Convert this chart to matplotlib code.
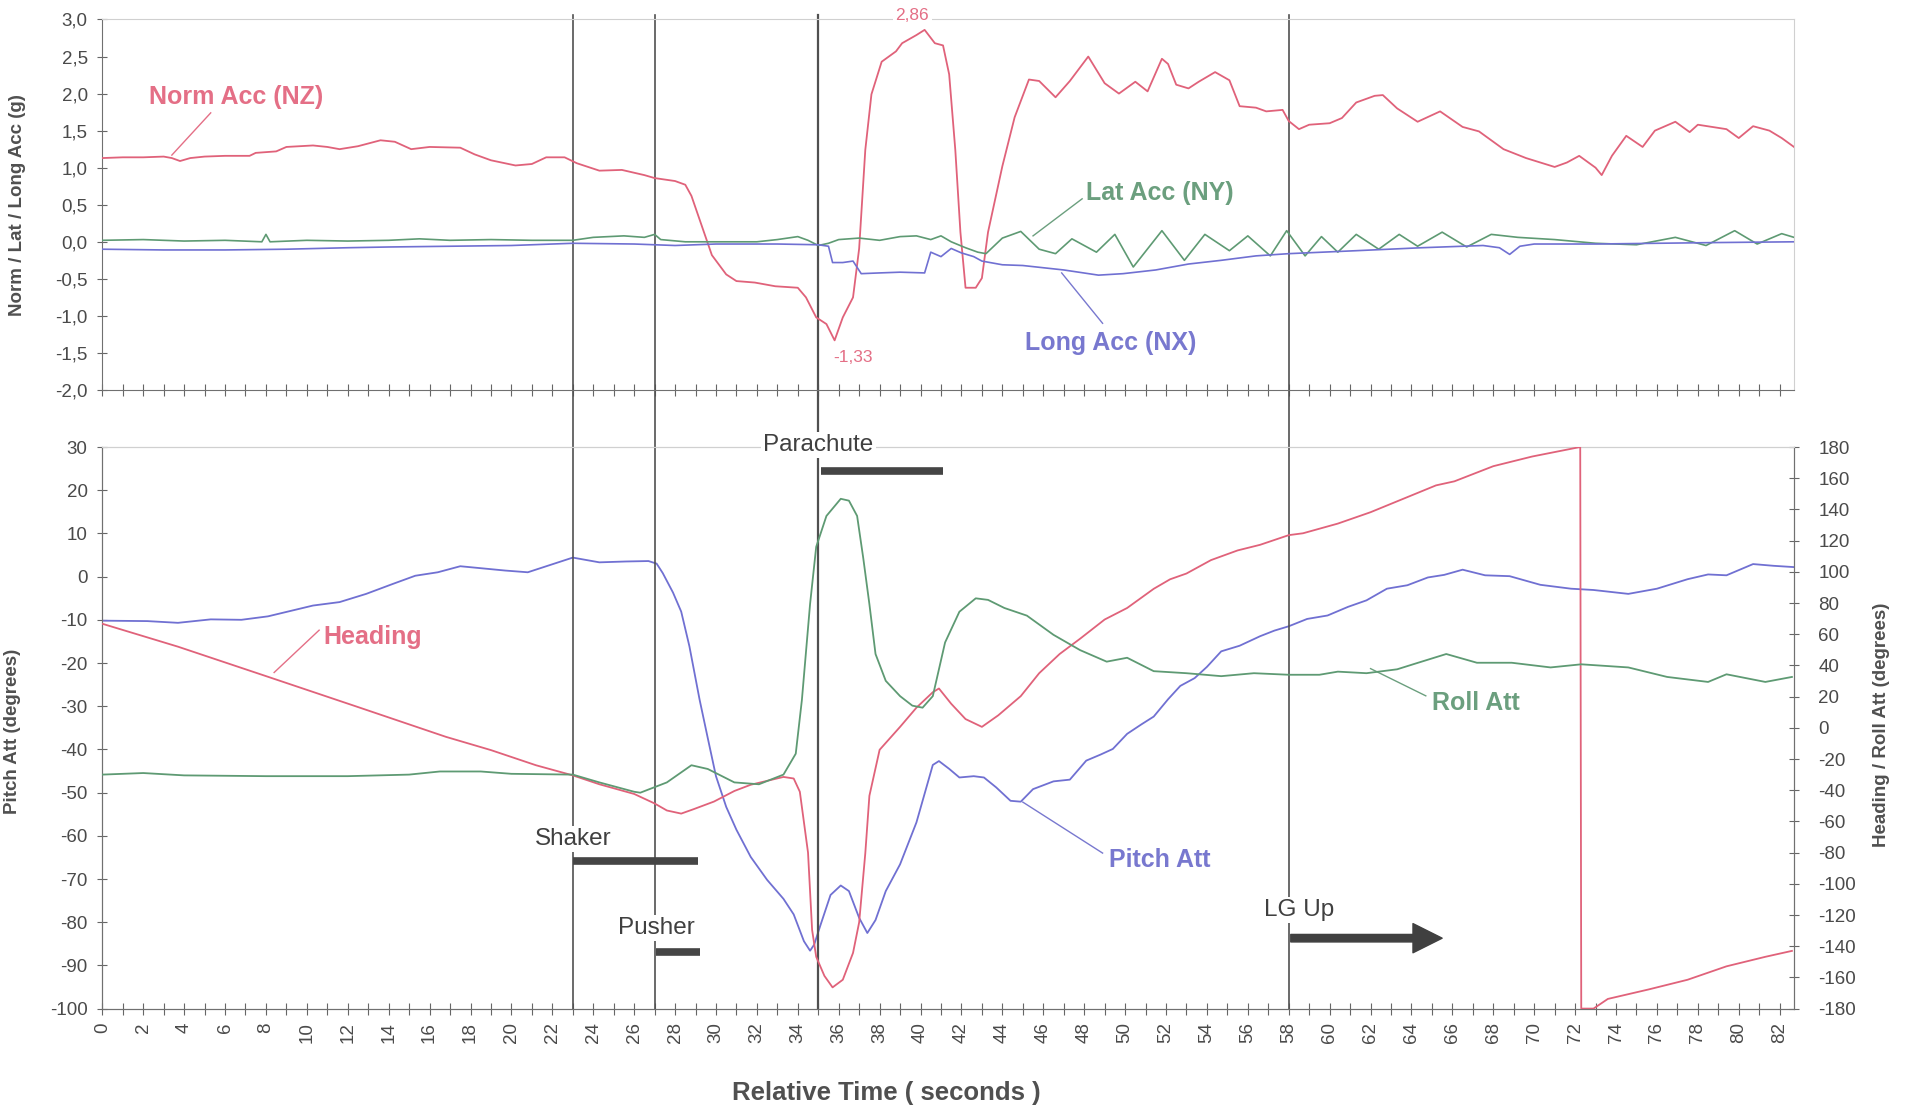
import matplotlib
matplotlib.use("Agg")
import matplotlib.pyplot as plt
import numpy as np

plt.rcParams['font.family'] = ['Liberation Sans', 'DejaVu Sans']
plt.rcParams['axes.unicode_minus'] = False

# ---------------- data ----------------
nz_t = [0, 1, 2, 3, 3.4, 3.8, 4.3, 5, 6, 7.2, 7.5, 8.5, 9, 10.3, 11, 11.6, 12.5, 13.6, 14.3, 15.1, 16,
        17.5, 18.2, 19, 20.2, 21, 21.7, 22.6, 23.2, 24.3, 25.4, 26.5, 27, 28, 28.5, 28.8, 29.3, 29.8,
        30.5, 31, 31.9, 32.9, 34, 34.4, 34.9, 35.4, 35.8, 36.2, 36.7, 37, 37.3, 37.6, 38.1, 38.8, 39.1,
        39.8, 40.2, 40.7, 41.1, 41.4, 41.7, 41.95, 42.2, 42.7, 43, 43.3, 44, 44.6, 45.3, 45.8, 46.6,
        47.3, 48.2, 49, 49.7, 50.5, 51.1, 51.8, 52.1, 52.5, 53.1, 53.6, 54.4, 55.1, 55.6, 56.4, 56.9,
        57.7, 58, 58.5, 59, 60, 60.6, 61.3, 62.2, 62.6, 63.3, 64.3, 65.4, 66.5, 67.3, 68.5, 69.6, 71,
        71.6, 72.2, 73, 73.3, 73.8, 74.5, 75.3, 75.9, 76.9, 77.6, 78, 79.4, 80, 80.7, 81.5, 82.1, 82.7]
nz_v = [1.13, 1.14, 1.14, 1.15, 1.13, 1.09, 1.13, 1.15, 1.16, 1.16, 1.20, 1.22, 1.28, 1.30, 1.28, 1.25,
        1.29, 1.37, 1.35, 1.25, 1.28, 1.27, 1.18, 1.10, 1.03, 1.05, 1.14, 1.14, 1.06, 0.96, 0.97, 0.90,
        0.86, 0.82, 0.77, 0.62, 0.22, -0.18, -0.44, -0.53, -0.55, -0.60, -0.62, -0.75, -1.02, -1.11,
        -1.33, -1.02, -0.75, -0.09, 1.24, 1.99, 2.43, 2.57, 2.68, 2.79, 2.86, 2.68, 2.65, 2.26, 1.24,
        0.13, -0.62, -0.62, -0.49, 0.13, 1.02, 1.68, 2.19, 2.17, 1.95, 2.17, 2.50, 2.14, 2.00, 2.16,
        2.03, 2.47, 2.40, 2.12, 2.07, 2.16, 2.29, 2.18, 1.83, 1.81, 1.76, 1.78, 1.63, 1.52, 1.58, 1.60,
        1.67, 1.88, 1.97, 1.98, 1.80, 1.62, 1.76, 1.55, 1.49, 1.25, 1.13, 1.01, 1.07, 1.16, 1.00, 0.90,
        1.16, 1.43, 1.28, 1.50, 1.62, 1.48, 1.58, 1.52, 1.40, 1.56, 1.50, 1.40, 1.28]

ny_t = [0, 2, 4, 6, 7.8, 8.0, 8.2, 10, 12, 14, 15.5, 17, 19, 21, 23, 24, 25.5, 26.5, 27, 27.3, 28.5, 30,
        32, 33, 34, 34.5, 35, 35.5, 36, 37, 38, 39, 39.8, 40.5, 41, 41.5, 42.2, 42.8, 43.2, 44, 44.9,
        45.8, 46.6, 47.4, 48.6, 49.5, 50.4, 51.8, 52.9, 53.9, 55.1, 56, 57.1, 57.9, 58.8, 59.6, 60.4,
        61.3, 62.4, 63.4, 64.3, 65.5, 66.7, 67.9, 69.2, 71, 73, 75, 76.9, 78.4, 79.8, 80.9, 82.1, 82.7]
ny_v = [0.02, 0.03, 0.01, 0.02, 0.0, 0.10, 0.0, 0.02, 0.01, 0.02, 0.04, 0.02, 0.03, 0.02, 0.02, 0.06,
        0.08, 0.06, 0.10, 0.03, 0.0, 0.0, 0.0, 0.03, 0.07, 0.02, -0.05, -0.02, 0.03, 0.05, 0.02, 0.07,
        0.08, 0.03, 0.08, 0.0, -0.08, -0.14, -0.16, 0.05, 0.14, -0.10, -0.16, 0.04, -0.14, 0.10, -0.34,
        0.15, -0.25, 0.10, -0.12, 0.08, -0.19, 0.15, -0.19, 0.07, -0.14, 0.10, -0.10, 0.10, -0.06, 0.13,
        -0.07, 0.10, 0.06, 0.03, -0.02, -0.04, 0.06, -0.05, 0.15, -0.03, 0.11, 0.06]

nx_t = [0, 3, 6, 9, 12, 14, 17, 20, 22, 23, 26, 28, 30, 33, 35, 35.5, 35.7, 36.2, 36.7, 37.1, 38, 39,
        40.2, 40.5, 41, 41.5, 42, 42.6, 43, 44, 45, 46, 47, 48.7, 49.9, 51.5, 53.1, 54.7, 56.4, 58, 61.3,
        64.5, 67.5, 68.3, 68.8, 69.3, 70, 73, 76, 79, 82.7]
nx_v = [-0.10, -0.11, -0.11, -0.10, -0.08, -0.07, -0.06, -0.05, -0.03, -0.02, -0.03, -0.05, -0.03,
        -0.03, -0.04, -0.06, -0.28, -0.28, -0.26, -0.43, -0.42, -0.41, -0.42, -0.14, -0.20, -0.09, -0.15,
        -0.20, -0.26, -0.31, -0.32, -0.35, -0.38, -0.45, -0.43, -0.38, -0.30, -0.25, -0.19, -0.16, -0.12,
        -0.08, -0.05, -0.08, -0.17, -0.06, -0.03, -0.03, -0.02, -0.01, 0.0]

pitch_t = [0, 2.2, 3.7, 5.3, 6.8, 8.1, 10.3, 11.6, 12.9, 14.2, 15.3, 16.4, 17.5, 18.6, 19.7, 20.8, 21.9,
           23, 24.3, 25.6, 26.7, 27.1, 27.4, 27.9, 28.3, 28.7, 29.2, 29.6, 30, 30.5, 31, 31.7, 32.5,
           33.3, 33.8, 34.3, 34.6, 34.8, 35.1, 35.6, 36.1, 36.5, 37, 37.4, 37.8, 38.3, 39, 39.8, 40.6,
           40.9, 41.4, 41.9, 42.6, 43.1, 43.7, 44.4, 44.9, 45.5, 46.5, 47.3, 48.1, 48.8, 49.4, 50.1,
           50.8, 51.4, 52.1, 52.7, 53.4, 54, 54.7, 55.6, 56.6, 57.3, 58, 58.9, 59.9, 60.9, 61.8, 62.8,
           63.8, 64.8, 65.6, 66.5, 67.6, 68.8, 70.3, 71.8, 72.9, 74.6, 76, 77.5, 78.5, 79.4, 80.7, 81.7,
           82.7]
pitch_v = [-10.2, -10.3, -10.7, -9.9, -10.0, -9.2, -6.7, -5.9, -4.0, -1.7, 0.2, 1.0, 2.4, 1.9, 1.4, 1.0,
           2.7, 4.4, 3.3, 3.5, 3.6, 3.0, 0.8, -3.7, -8.1, -16.1, -28.5, -37.4, -46.2, -53.3, -58.6,
           -64.9, -70.2, -74.6, -78.2, -84.4, -86.6, -85.2, -80.8, -73.7, -71.5, -72.8, -79.0, -82.5,
           -79.5, -72.8, -66.6, -56.9, -43.6, -42.7, -44.5, -46.5, -46.2, -46.5, -48.8, -51.9, -52.1,
           -49.2, -47.4, -47.0, -42.6, -41.2, -39.9, -36.4, -34.2, -32.4, -28.4, -25.3, -23.5, -20.9,
           -17.3, -16.0, -13.8, -12.5, -11.5, -9.8, -9.0, -7.0, -5.5, -2.8, -2.0, -0.2, 0.4, 1.6, 0.3,
           0.1, -1.9, -2.8, -3.1, -4.0, -2.8, -0.6, 0.5, 0.3, 2.9, 2.5, 2.2]

heading_t = [0, 3.7, 8.1, 12.5, 16.8, 19, 21.2, 23, 24.3, 26, 27, 27.6, 28.3, 28.9, 29.9, 30.9, 31.7,
             32.5, 33.3, 33.8, 34.1, 34.5, 34.7, 34.9, 35.3, 35.7, 36.2, 36.7, 37, 37.3, 37.5, 38, 39,
             39.8, 40.6, 40.9, 41.5, 42.2, 43, 43.8, 44.9, 45.8, 46.8, 47.8, 49, 50.1, 51.4, 52.2, 53,
             54.2, 55.5, 56.6, 58, 58.7, 60.4, 62, 63.6, 65.2, 66.1, 68, 69.9, 72.25, 72.3, 72.9, 73.6,
             75.6, 77.5, 79.4, 81.3, 82.6]
heading_v = [66.7, 52, 32.7, 13.3, -5.8, -14.3, -24, -30.5, -36.2, -42.4, -48.5, -53, -55, -52.2, -47.3,
             -40.5, -36.5, -34, -31.5, -32.5, -41, -80, -129.6, -146.8, -159, -166.4, -161.5, -144.3,
             -124.7, -80.4, -43.6, -14.1, 0.6, 12.9, 22.8, 25.2, 15.4, 5.6, 0.6, 8, 20.3, 35, 47.3, 57.1,
             69.4, 76.8, 89.1, 95.2, 98.9, 107.5, 113.7, 117.3, 123.5, 124.7, 130.9, 138.2, 146.8, 155.4,
             158, 167.7, 173.9, 180, -180, -180, -173.8, -167.7, -161.5, -152.9, -146.8, -143]

roll_t = [0, 2, 4, 8, 12, 15, 16.5, 18.5, 20, 23, 24.3, 26, 26.3, 27.6, 28.8, 29.6, 30.9, 32.1, 33.3,
          33.9, 34.2, 34.6, 34.9, 35.4, 36.1, 36.5, 36.9, 37.2, 37.5, 37.8, 38.3, 39, 39.6, 40.1, 40.6,
          41.2, 41.9, 42.7, 43.3, 44.1, 45.2, 46.5, 47.8, 49.1, 50.1, 51.4, 53, 54.7, 56.3, 58, 59.5,
          60.4, 61.8, 63.3, 64.2, 65.7, 67.2, 68.9, 70.8, 72.3, 74.6, 76.5, 78.5, 79.4, 81.3, 82.6]
roll_v = [-30, -29, -30.5, -31, -31, -30, -28, -28, -29.5, -30, -35, -41, -41.6, -35, -24, -26.4, -35,
          -36.2, -30, -16.6, 17.8, 79.3, 116, 135.8, 146.8, 145.6, 135.8, 108.8, 79.3, 47.3, 30.1, 20.3,
          14.2, 12.9, 20.3, 54.7, 74.4, 83, 82, 76.8, 71.9, 59.6, 49.8, 42.4, 44.9, 36.3, 35, 33.1, 35,
          34, 34, 36, 35, 37.5, 41.2, 47.3, 41.7, 41.7, 38.7, 40.7, 38.7, 32.6, 29.4, 34.3, 29.4, 32.6]

event_times = [23, 27, 35, 58]
top_yticks = [-2.0, -1.5, -1.0, -0.5, 0.0, 0.5, 1.0, 1.5, 2.0, 2.5, 3.0]
pitch_yticks = list(range(-100, 31, 10))
right_yticks = list(range(-180, 181, 20))

# ---------------- styles ----------------
RED = '#E0627A'
GREEN = '#5E9A73'
BLUE = '#7070D2'
RED_T = '#E46F86'
GREEN_T = '#6B9F7E'
BLUE_T = '#7878CF'
DARK = '#454545'
TICKC = '#4A4A4A'
XMAX = 82.7
LBL = 18      # series label size
EVT = 17.5    # event label size

fig = plt.figure(figsize=(19.10, 11.08), dpi=100)
ax1 = fig.add_axes([0.05356, 0.64801, 0.8857, 0.3344])
ax2 = fig.add_axes([0.05356, 0.08971, 0.8857, 0.50686])
ax3 = ax2.twinx()

# ---------------- top panel ----------------
ax1.plot(nz_t, nz_v, color=RED, lw=1.3, zorder=3)
ax1.plot(ny_t, ny_v, color=GREEN, lw=1.2, zorder=3)
ax1.plot(nx_t, nx_v, color=BLUE, lw=1.2, zorder=3)
ax1.set_xlim(0, XMAX)
ax1.set_ylim(-2.0, 3.0)
ax1.set_yticks(top_yticks)
ax1.set_yticklabels([f"{v:.1f}".replace('.', ',') for v in top_yticks])
ax1.set_xticks(np.arange(0, 83, 1))
ax1.tick_params(axis='x', labelbottom=False, direction='inout', length=8, color='#666')
ax1.tick_params(axis='y', direction='inout', length=7, color='#666', labelsize=13.5,
                labelcolor=TICKC, pad=7)
ax1.set_ylabel('Norm / Lat / Long Acc (g)', fontsize=13.5, fontweight='bold', color='#505050')
ax1.yaxis.set_label_coords(-0.045, 0.5)
for s in ['top', 'right']:
    ax1.spines[s].set_color('#d0d0d0')
for s in ['left', 'bottom']:
    ax1.spines[s].set_color('#707070')

for t in event_times:
    ax1.axvline(t, ymin=-0.154, ymax=1.012, color='#505050', lw=1.6 if t == 35 else 1.2,
                clip_on=False, zorder=2)

ax1.text(2.3, 1.95, 'Norm Acc (NZ)', color=RED_T, fontsize=LBL, fontweight='bold', va='center', ha='left')
ax1.plot([3.4, 5.3], [1.17, 1.74], color=RED_T, lw=1.0)
ax1.text(48.1, 0.66, 'Lat Acc (NY)', color=GREEN_T, fontsize=LBL, fontweight='bold', va='center', ha='left')
ax1.plot([45.5, 47.9], [0.08, 0.58], color=GREEN_T, lw=1.0)
ax1.text(45.1, -1.36, 'Long Acc (NX)', color=BLUE_T, fontsize=LBL, fontweight='bold', va='center', ha='left')
ax1.plot([46.9, 48.9], [-0.42, -1.10], color=BLUE_T, lw=1.0)
ax1.text(39.6, 3.05, '2,86', color=RED_T, fontsize=12.5, ha='center', va='center', clip_on=False,
         bbox=dict(facecolor='white', edgecolor='none', pad=2), zorder=6)
ax1.text(36.7, -1.56, '-1,33', color=RED_T, fontsize=12.5, ha='center', va='center', zorder=6)

# ---------------- bottom panel ----------------
ax2.plot(pitch_t, pitch_v, color=BLUE, lw=1.3, zorder=3)
ax2.set_xlim(0, XMAX)
ax2.set_ylim(-100, 30)
ax2.set_yticks(pitch_yticks)
ax2.set_xticks(np.arange(0, 83, 1))
ax2.set_xticklabels([str(i) if i % 2 == 0 else '' for i in range(0, 83)], rotation=90)
ax2.tick_params(axis='x', direction='inout', length=8, color='#666', labelsize=13.5,
                labelcolor=TICKC, pad=6)
ax2.tick_params(axis='y', direction='inout', length=7, color='#666', labelsize=13.5,
                labelcolor=TICKC, pad=7)
ax2.set_ylabel('Pitch Att (degrees)', fontsize=13.5, fontweight='bold', color='#505050')
ax2.yaxis.set_label_coords(-0.048, 0.494)

ax3.plot(heading_t, heading_v, color=RED, lw=1.3, zorder=3)
ax3.plot(roll_t, roll_v, color=GREEN, lw=1.3, zorder=3)
ax3.set_ylim(-180, 180)
ax3.set_yticks(right_yticks)
ax3.tick_params(axis='y', direction='inout', length=7, color='#666', labelsize=13.5,
                labelcolor=TICKC, pad=14)
ax3.set_ylabel('Heading / Roll Att (degrees)', fontsize=13.5, fontweight='bold', color='#505050')
ax3.yaxis.set_label_coords(1.047, 0.505)
for a in (ax2, ax3):
    a.spines['top'].set_color('#d0d0d0')
    for s in ['left', 'right', 'bottom']:
        a.spines[s].set_color('#707070')

for t in event_times:
    ax3.axvline(t, color='#505050', lw=1.6 if t == 35 else 1.2, zorder=2)

def left2right(v):
    return 180 - (30 - v) * 360.0 / 130.0

# series labels
ax3.text(10.8, left2right(-14), 'Heading', color=RED_T, fontsize=LBL, fontweight='bold', va='center', ha='left')
ax3.plot([8.4, 10.6], [left2right(-22.2), left2right(-12.4)], color=RED_T, lw=1.0)
ax3.text(65.0, left2right(-29.2), 'Roll Att', color=GREEN_T, fontsize=LBL, fontweight='bold', va='center', ha='left')
ax3.plot([62.0, 64.7], [left2right(-21.3), left2right(-27.6)], color=GREEN_T, lw=1.0)
ax3.text(49.2, left2right(-65.6), 'Pitch Att', color=BLUE_T, fontsize=LBL, fontweight='bold', va='center', ha='left')
ax3.plot([45.0, 48.9], [left2right(-52.2), left2right(-64.0)], color=BLUE_T, lw=1.0)

# event annotations
box = dict(facecolor='white', edgecolor='none', pad=1.5)
ax3.text(35.0, left2right(30.5), 'Parachute', color='#404040', fontsize=EVT, ha='center', va='center',
         bbox=box, clip_on=False, zorder=6)
ax3.plot([35.15, 41.1], [left2right(24.4)] * 2, color=DARK, lw=5.5, solid_capstyle='butt', zorder=5)
ax3.text(23.0, left2right(-60.7), 'Shaker', color='#404040', fontsize=EVT, ha='center', va='center',
         bbox=box, zorder=6)
ax3.plot([23.0, 29.1], [left2right(-65.8)] * 2, color=DARK, lw=5.5, solid_capstyle='butt', zorder=5)
ax3.text(27.1, left2right(-81.3), 'Pusher', color='#404040', fontsize=EVT, ha='center', va='center',
         bbox=box, zorder=6)
ax3.plot([27.07, 29.2], [left2right(-86.8)] * 2, color=DARK, lw=5.5, solid_capstyle='butt', zorder=5)
ax3.text(58.5, left2right(-77.2), 'LG Up', color='#404040', fontsize=EVT, ha='center', va='center',
         bbox=box, zorder=6)
ax3.annotate('', xy=(65.5, left2right(-83.7)), xytext=(58.1, left2right(-83.7)),
             arrowprops=dict(arrowstyle='simple,head_length=1.05,head_width=1.05,tail_width=0.27',
                             mutation_scale=20, color='#404040', shrinkA=0, shrinkB=0), zorder=6)

fig.text(0.464, 0.0135, 'Relative Time ( seconds )', fontsize=18.5, fontweight='bold', color='#505050',
         ha='center', va='center')

fig.savefig('out.png', dpi=100, facecolor='white')
